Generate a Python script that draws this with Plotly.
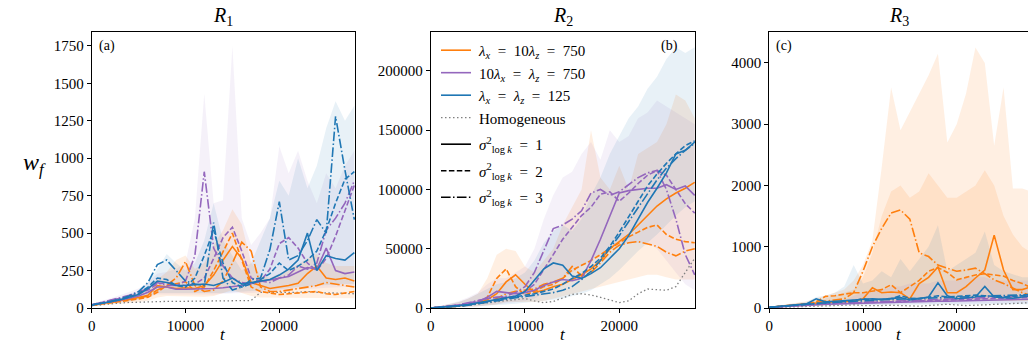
import plotly.graph_objects as go

# ---------------- data ----------------
T = [0, 1000, 2000, 3000, 4000, 5000, 6000, 7000, 8000, 9000, 10000, 11000, 12000, 13000, 14000,
     15000, 16000, 17000, 18000, 19000, 20000, 21000, 22000, 23000, 24000, 25000, 26000, 27000, 28000]

# ---- R1 ----
R1_homog = [15, 22, 28, 33, 37, 40, 42, 44, 44, 44, 45, 45, 45, 45, 46, 46, 47, 50, 105, 105, 100, 100, 105, 110, 105, 100, 100, 95, 95]
R1_o1 = [18, 28, 38, 48, 58, 70, 85, 150, 140, 130, 135, 130, 150, 220, 320, 410, 330, 170, 150, 130, 140, 150, 165, 230, 280, 200, 190, 200, 180]
R1_o2 = [18, 26, 34, 42, 50, 60, 72, 105, 150, 160, 175, 110, 140, 250, 380, 500, 320, 140, 110, 100, 90, 95, 100, 105, 110, 95, 90, 100, 110]
R1_o3 = [18, 27, 36, 45, 55, 66, 80, 120, 150, 200, 310, 150, 110, 120, 180, 300, 440, 380, 140, 110, 110, 120, 130, 140, 150, 170, 160, 150, 140]
R1_p1 = [20, 30, 40, 52, 65, 80, 105, 140, 140, 125, 125, 125, 130, 130, 135, 140, 150, 165, 175, 185, 195, 210, 240, 270, 260, 400, 250, 230, 240]
R1_p2 = [22, 35, 48, 62, 78, 95, 120, 160, 170, 155, 150, 160, 200, 330, 470, 540, 380, 200, 180, 260, 430, 470, 400, 300, 250, 330, 480, 650, 820]
R1_p3 = [22, 36, 52, 68, 85, 105, 130, 170, 150, 150, 180, 350, 910, 400, 280, 200, 170, 160, 180, 170, 200, 220, 280, 260, 300, 520, 600, 700, 850]
R1_b1 = [20, 30, 42, 55, 70, 90, 130, 180, 170, 150, 150, 155, 160, 150, 170, 200, 160, 170, 180, 190, 220, 260, 320, 500, 250, 350, 330, 320, 370]
R1_b2 = [20, 30, 42, 56, 72, 95, 140, 200, 190, 150, 140, 200, 350, 520, 300, 170, 140, 160, 190, 230, 300, 250, 280, 320, 380, 520, 700, 860, 910]
R1_b3 = [20, 30, 44, 60, 80, 110, 170, 290, 320, 250, 180, 160, 150, 570, 200, 120, 140, 190, 200, 390, 710, 320, 350, 450, 590, 500, 1280, 920, 590]
R1_o_hi = [25, 38, 50, 62, 75, 90, 115, 190, 240, 320, 350, 260, 300, 420, 520, 660, 560, 300, 220, 200, 230, 260, 290, 330, 360, 300, 280, 280, 280]
R1_o_lo = [12, 18, 24, 30, 35, 40, 48, 70, 80, 80, 80, 75, 75, 80, 100, 120, 100, 80, 70, 65, 65, 65, 65, 70, 70, 65, 65, 65, 65]
R1_p_hi = [28, 45, 65, 85, 105, 130, 170, 230, 240, 260, 300, 600, 1430, 700, 720, 1750, 600, 420, 500, 600, 1080, 900, 1050, 850, 700, 900, 800, 950, 1050]
R1_p_lo = [14, 22, 30, 38, 45, 55, 70, 90, 90, 85, 85, 85, 90, 90, 95, 100, 100, 100, 105, 110, 115, 120, 125, 130, 130, 135, 140, 140, 140]
R1_b_hi = [26, 40, 55, 70, 90, 115, 170, 260, 360, 300, 250, 300, 450, 700, 450, 350, 250, 300, 450, 600, 850, 750, 1000, 800, 950, 1200, 1380, 1250, 1350]
R1_b_lo = [14, 20, 28, 36, 45, 55, 75, 100, 100, 95, 95, 95, 95, 100, 100, 105, 105, 110, 115, 120, 125, 130, 140, 145, 150, 150, 155, 160, 160]

# ---- R2 ----
R2_homog = [0, 300, 800, 1500, 2500, 3500, 4500, 5500, 6500, 7500, 8000, 6000, 4500, 5500, 8500, 11500, 12000, 11000, 9000, 6500, 4500, 6000, 12000, 16000, 15500, 15000, 18000, 30000, 42000]
R2_o1 = [0, 500, 1000, 2000, 3000, 4500, 7000, 12000, 22000, 28000, 20000, 13000, 15000, 18000, 20000, 24000, 28000, 33000, 40000, 50000, 56000, 62000, 70000, 78000, 86000, 92000, 97000, 101000, 106000]
R2_o2 = [0, 400, 900, 1800, 2800, 4200, 9000, 25000, 33000, 18000, 11000, 14000, 18000, 20000, 25000, 32000, 36000, 40000, 45000, 50000, 55000, 60000, 64000, 68000, 70000, 62000, 58000, 56000, 55000]
R2_o3 = [0, 300, 700, 1500, 2500, 3500, 5000, 8000, 12000, 14000, 15000, 16000, 20000, 22000, 25000, 35000, 27000, 30000, 38000, 47000, 53000, 55000, 56000, 54000, 52000, 47000, 44000, 48000, 50000]
R2_p1 = [0, 600, 1300, 2300, 3500, 5000, 9000, 14000, 13000, 12000, 13000, 15000, 19000, 22000, 24000, 23000, 25000, 40000, 58000, 77000, 97000, 99000, 100000, 101000, 101000, 104000, 100000, 103000, 95000]
R2_p2 = [0, 700, 1500, 2600, 4000, 6000, 8000, 9000, 9000, 10000, 14000, 20000, 32000, 45000, 58000, 68000, 78000, 85000, 96000, 98000, 90000, 97000, 105000, 112000, 116000, 112000, 100000, 88000, 80000]
R2_p3 = [0, 700, 1600, 2800, 4500, 6500, 8000, 9000, 10000, 13000, 18000, 30000, 48000, 67000, 70000, 75000, 82000, 97000, 100000, 95000, 98000, 104000, 110000, 114000, 116000, 100000, 75000, 45000, 28000]
R2_b1 = [0, 500, 1100, 2000, 3000, 4500, 6000, 7500, 9000, 10000, 14000, 24000, 33000, 38000, 36000, 27000, 25000, 29000, 34000, 42000, 50000, 61000, 75000, 89000, 101000, 114000, 130000, 133000, 140000]
R2_b2 = [0, 400, 900, 1700, 2600, 3800, 5000, 6500, 8000, 9500, 10500, 12000, 14000, 16000, 20000, 25000, 29000, 35000, 42000, 52000, 64000, 77000, 90000, 103000, 113000, 122000, 130000, 137000, 141000]
R2_b3 = [0, 400, 800, 1500, 2300, 3400, 4500, 6000, 7500, 8500, 9500, 10500, 11500, 13000, 15000, 18000, 24000, 31000, 40000, 50000, 61000, 73000, 85000, 97000, 108000, 118000, 126000, 133000, 139000]
R2_o_hi = [0, 1500, 3000, 5000, 8000, 12000, 25000, 45000, 50000, 48000, 35000, 30000, 40000, 50000, 70000, 85000, 100000, 150000, 110000, 100000, 120000, 100000, 130000, 135000, 140000, 155000, 180000, 175000, 160000]
R2_o_lo = [0, 0, 200, 500, 800, 1200, 2000, 3000, 5000, 5000, 5000, 5000, 6000, 8000, 10000, 12000, 14000, 16000, 18000, 20000, 22000, 24000, 26000, 28000, 28000, 26000, 24000, 24000, 24000]
R2_p_hi = [0, 1500, 3500, 6000, 9000, 13000, 20000, 25000, 25000, 30000, 35000, 50000, 75000, 95000, 110000, 115000, 130000, 140000, 125000, 150000, 140000, 145000, 160000, 165000, 175000, 170000, 165000, 160000, 155000]
R2_p_lo = [0, 0, 300, 600, 1000, 1500, 2000, 3000, 4000, 5000, 6000, 8000, 12000, 18000, 25000, 30000, 35000, 40000, 45000, 50000, 52000, 55000, 55000, 55000, 50000, 40000, 30000, 20000, 15000]
R2_b_hi = [0, 1500, 3000, 5000, 8000, 12000, 16000, 20000, 22000, 25000, 30000, 40000, 55000, 65000, 70000, 65000, 75000, 95000, 110000, 130000, 145000, 160000, 170000, 185000, 195000, 210000, 220000, 215000, 220000]
R2_b_lo = [0, 0, 200, 400, 800, 1200, 1800, 2500, 3000, 3500, 4000, 5000, 6000, 7000, 8000, 10000, 12000, 15000, 20000, 25000, 32000, 40000, 48000, 55000, 62000, 70000, 78000, 85000, 90000]

# ---- R3 ----
R3_homog = [5, 10, 15, 20, 25, 30, 35, 40, 45, 50, 40, 35, 40, 45, 40, 35, 30, 40, 50, 60, 50, 40, 45, 50, 55, 60, 70, 80, 90]
R3_o1 = [10, 25, 40, 55, 65, 80, 95, 100, 100, 110, 150, 330, 250, 260, 250, 150, 400, 500, 670, 250, 250, 350, 490, 620, 1190, 620, 300, 300, 350]
R3_o2 = [10, 25, 40, 55, 70, 100, 190, 200, 230, 250, 250, 280, 300, 380, 250, 350, 450, 600, 660, 580, 460, 500, 540, 560, 540, 520, 450, 400, 330]
R3_o3 = [10, 20, 35, 50, 70, 90, 110, 130, 150, 250, 600, 1000, 1300, 1550, 1600, 1450, 900, 840, 700, 650, 600, 620, 650, 560, 460, 400, 330, 250, 200]
R3_p1 = [10, 20, 30, 40, 50, 55, 60, 65, 70, 75, 80, 80, 85, 90, 90, 95, 100, 105, 110, 110, 115, 120, 120, 125, 130, 135, 140, 140, 145]
R3_p2 = [10, 22, 34, 45, 55, 62, 68, 72, 78, 82, 88, 92, 96, 100, 105, 110, 115, 120, 125, 130, 135, 140, 145, 150, 155, 160, 165, 170, 175]
R3_p3 = [10, 25, 38, 50, 60, 68, 75, 80, 85, 90, 95, 100, 105, 110, 115, 120, 125, 130, 135, 140, 145, 150, 160, 170, 180, 185, 190, 200, 210]
R3_b1 = [10, 25, 40, 55, 70, 150, 100, 110, 120, 130, 140, 150, 140, 160, 170, 130, 150, 180, 410, 200, 150, 170, 180, 350, 180, 170, 160, 180, 200]
R3_b2 = [10, 22, 38, 52, 65, 80, 90, 100, 110, 120, 150, 130, 140, 150, 200, 160, 150, 170, 200, 180, 190, 200, 210, 200, 190, 180, 190, 200, 210]
R3_b3 = [10, 20, 35, 50, 62, 75, 85, 95, 105, 115, 125, 130, 135, 140, 145, 150, 155, 160, 170, 175, 180, 185, 190, 195, 200, 205, 210, 215, 220]
R3_o_hi = [20, 40, 60, 80, 110, 150, 200, 250, 300, 450, 700, 1100, 2300, 3600, 2900, 3200, 3500, 3800, 4150, 2700, 3000, 3500, 4250, 4000, 2650, 3600, 1950, 1950, 1900]
R3_o2_hi = [15, 30, 45, 60, 80, 110, 150, 200, 250, 300, 500, 900, 1500, 1900, 2000, 1800, 1900, 2200, 2000, 1800, 1800, 1900, 2000, 2250, 2000, 1500, 1200, 1000, 900]
R3_o_lo = [5, 10, 15, 20, 25, 30, 40, 50, 60, 70, 80, 90, 100, 110, 120, 120, 120, 120, 120, 120, 120, 120, 120, 120, 120, 120, 120, 120, 120]
R3_b_hi = [15, 35, 55, 75, 100, 180, 200, 250, 350, 700, 400, 450, 600, 500, 800, 600, 800, 1000, 1350, 600, 700, 800, 900, 1250, 700, 600, 550, 500, 500]
R3_b_lo = [5, 10, 15, 25, 30, 35, 40, 45, 50, 55, 60, 60, 60, 60, 60, 60, 60, 60, 60, 60, 60, 60, 60, 60, 60, 60, 60, 60, 60]
R3_p_hi = [15, 30, 45, 60, 75, 90, 100, 110, 120, 200, 250, 300, 300, 350, 350, 400, 400, 400, 450, 450, 450, 500, 500, 500, 450, 450, 450, 450, 450]
R3_p_lo = [5, 10, 15, 20, 25, 30, 35, 40, 45, 50, 50, 55, 55, 60, 60, 65, 65, 70, 70, 70, 70, 75, 75, 75, 80, 80, 80, 80, 80]

X_TICKS = [0, 10000, 20000]
R1_YTICKS = [0, 250, 500, 750, 1000, 1250, 1500, 1750]
R2_YTICKS = [0, 50000, 100000, 150000, 200000]
R3_YTICKS = [0, 1000, 2000, 3000, 4000]
PANEL_TITLES = ["<i>R</i><sub>1</sub>", "<i>R</i><sub>2</sub>", "<i>R</i><sub>3</sub>"]
PANEL_TAGS = ["(a)", "(b)", "(c)"]

# ---------------- styling ----------------
ORANGE = "#ff7f0e"
PURPLE = "#9467bd"
BLUE = "#1f77b4"
GRAY = "#808080"
FILL = {ORANGE: "rgba(255,127,14,0.12)", PURPLE: "rgba(148,103,189,0.09)", BLUE: "rgba(31,119,180,0.10)"}
DASH = ["solid", "5.5px,2.4px", "9.6px,2.4px,1.5px,2.4px"]
FONT = "Liberation Serif"

W, H = 1028, 347
MT, MB = 31.5, 38.7
DOMAINS = [[91.7 / W, 355.0 / W], [430.7 / W, 695.0 / W], [769.3 / W, 1.0]]
XRANGES = [[0, 28070], [0, 28030], [0, 27610]]
YRANGES = [[0, 1843], [0, 232800], [0, 4505]]
YTICKS = [R1_YTICKS, R2_YTICKS, R3_YTICKS]

panels = [
    dict(homog=R1_homog, lines=[(ORANGE, [R1_o1, R1_o2, R1_o3]), (PURPLE, [R1_p1, R1_p2, R1_p3]), (BLUE, [R1_b1, R1_b2, R1_b3])],
         bands=[(PURPLE, R1_p_hi, R1_p_lo), (BLUE, R1_b_hi, R1_b_lo), (ORANGE, R1_o_hi, R1_o_lo)]),
    dict(homog=R2_homog, lines=[(ORANGE, [R2_o1, R2_o2, R2_o3]), (PURPLE, [R2_p1, R2_p2, R2_p3]), (BLUE, [R2_b1, R2_b2, R2_b3])],
         bands=[(ORANGE, R2_o_hi, R2_o_lo), (PURPLE, R2_p_hi, R2_p_lo), (BLUE, R2_b_hi, R2_b_lo)]),
    dict(homog=R3_homog, lines=[(ORANGE, [R3_o1, R3_o2, R3_o3]), (PURPLE, [R3_p1, R3_p2, R3_p3]), (BLUE, [R3_b1, R3_b2, R3_b3])],
         bands=[(ORANGE, R3_o_hi, R3_o_lo), (ORANGE, R3_o2_hi, R3_o_lo), (BLUE, R3_b_hi, R3_b_lo), (PURPLE, R3_p_hi, R3_p_lo)]),
]

fig = go.Figure()

for i, p in enumerate(panels):
    xa = "x" if i == 0 else f"x{i+1}"
    ya = "y" if i == 0 else f"y{i+1}"
    for color, hi, lo in p["bands"]:
        fig.add_trace(go.Scatter(x=T + T[::-1], y=hi + lo[::-1], fill="toself", fillcolor=FILL[color],
                                 line=dict(width=0), mode="lines", showlegend=False, hoverinfo="skip",
                                 xaxis=xa, yaxis=ya))
    fig.add_trace(go.Scatter(x=T, y=p["homog"], mode="lines", line=dict(color=GRAY, width=1.3, dash="1.5px,2.5px"),
                             showlegend=False, xaxis=xa, yaxis=ya))
    for color, series in p["lines"]:
        for k, s in enumerate(series):
            fig.add_trace(go.Scatter(x=T, y=s, mode="lines", line=dict(color=color, width=1.6, dash=DASH[k]),
                                     showlegend=False, xaxis=xa, yaxis=ya))

# legend entries (panel 2)
SP = "\u2009"
EQ = "\u2002=\u2002"
SIG = "<i>σ</i><sup>2</sup><sub>log\u2009<i>k</i></sub>"
legend_items = [
    (SP + "<i>λ<sub>x</sub></i>" + EQ + "10<i>λ<sub>z</sub></i>" + EQ + "750", ORANGE, "solid", 1.6, "g0"),
    (SP + "10<i>λ<sub>x</sub></i>" + EQ + "<i>λ<sub>z</sub></i>" + EQ + "750", PURPLE, "solid", 1.6, "g0"),
    (SP + "<i>λ<sub>x</sub></i>" + EQ + "<i>λ<sub>z</sub></i>" + EQ + "125", BLUE, "solid", 1.6, "g0"),
    (SP + "Homogeneous", GRAY, "1.5px,2.5px", 1.3, "g0"),
    (SP + SIG + EQ + "1", "black", DASH[0], 1.6, "g1"),
    (SP + SIG + EQ + "2", "black", DASH[1], 1.6, "g2"),
    (SP + SIG + EQ + "3", "black", DASH[2], 1.6, "g3"),
]
for name, color, dash, w, grp in legend_items:
    fig.add_trace(go.Scatter(x=[None], y=[None], mode="lines", name=name, legendgroup=grp,
                             line=dict(color=color, dash=dash, width=w), xaxis="x2", yaxis="y2"))

axis_common = dict(showline=True, linecolor="black", linewidth=1, ticks="outside", ticklen=4,
                   tickwidth=1, tickcolor="black", showgrid=False, zeroline=False,
                   tickfont=dict(family=FONT, size=15, color="black"))

layout = dict(width=W, height=H, autosize=False, margin=dict(l=0, r=0, t=MT, b=MB),
              plot_bgcolor="white", paper_bgcolor="white",
              font=dict(family=FONT, color="black"),
              legend=dict(x=436 / W, y=0.993, xanchor="left", yanchor="top",
                          bgcolor="rgba(0,0,0,0)", font=dict(family=FONT, size=15, color="black"),
                          tracegroupgap=4, itemwidth=30, groupclick="toggleitem"))
annotations = []
for i in range(3):
    xk = "xaxis" if i == 0 else f"xaxis{i+1}"
    yk = "yaxis" if i == 0 else f"yaxis{i+1}"
    xa = "x" if i == 0 else f"x{i+1}"
    ya = "y" if i == 0 else f"y{i+1}"
    layout[xk] = dict(axis_common, domain=DOMAINS[i], anchor=ya, range=XRANGES[i], tickvals=X_TICKS,
                      ticktext=[str(v) for v in X_TICKS], mirror=True, automargin=False)
    layout[yk] = dict(axis_common, domain=[0, 1], anchor=xa, range=YRANGES[i], tickvals=YTICKS[i],
                      ticktext=[str(v) for v in YTICKS[i]], mirror=(i < 2), automargin=False)
    annotations.append(dict(text=PANEL_TITLES[i], xref=f"{xa} domain", yref=f"{ya} domain", x=0.5, y=1,
                            xanchor="center", yanchor="bottom", yshift=1, showarrow=False,
                            font=dict(family=FONT, size=20, color="black")))
    annotations.append(dict(text="<i>t</i>", xref=f"{xa} domain", yref=f"{ya} domain", x=0.5, y=0,
                            xanchor="center", yanchor="middle", yshift=-26, showarrow=False,
                            font=dict(family=FONT, size=17, color="black")))
annotations.append(dict(text=PANEL_TAGS[0], xref="x domain", yref="y domain", x=0.02, y=0.985,
                        xanchor="left", yanchor="top", showarrow=False, font=dict(family=FONT, size=14)))
annotations.append(dict(text=PANEL_TAGS[1], xref="x2 domain", yref="y2 domain", x=0.945, y=0.985,
                        xanchor="right", yanchor="top", showarrow=False, font=dict(family=FONT, size=14)))
annotations.append(dict(text=PANEL_TAGS[2], xref="x3 domain", yref="y3 domain", x=0.02, y=0.985,
                        xanchor="left", yanchor="top", showarrow=False, font=dict(family=FONT, size=14)))
annotations.append(dict(text="<i>w<sub>f</sub></i>", xref="paper", yref="paper", x=34 / W, y=0.52,
                        xanchor="center", yanchor="middle", showarrow=False, font=dict(family=FONT, size=24)))
layout["annotations"] = annotations
fig.update_layout(**layout)

fig.write_html("out.html")
